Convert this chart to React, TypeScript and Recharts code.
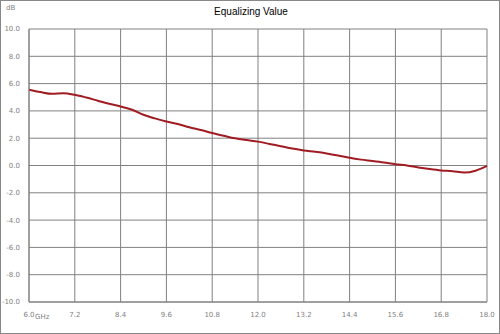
import { LineChart, Line, XAxis, YAxis, CartesianGrid } from 'recharts';

const freqs = [
  6.0, 6.3, 6.6, 6.9, 7.2, 7.5, 7.8, 8.1, 8.4, 8.7, 9.0, 9.3, 9.6, 9.9, 10.2, 10.5, 10.8, 11.1, 11.4, 11.7,
  12.0, 12.3, 12.6, 12.9, 13.2, 13.5, 13.8, 14.1, 14.4, 14.7, 15.0, 15.3, 15.6, 15.9, 16.2, 16.5, 16.8, 17.1,
  17.4, 17.7, 18.0,
];
const values = [
  5.55, 5.38, 5.25, 5.3, 5.18, 4.98, 4.75, 4.52, 4.32, 4.08, 3.72, 3.45, 3.22, 3.04, 2.8, 2.6, 2.38, 2.18,
  1.99, 1.86, 1.75, 1.58, 1.41, 1.24, 1.1, 1.0, 0.88, 0.73, 0.56, 0.43, 0.33, 0.22, 0.09, 0.0, -0.14, -0.26,
  -0.36, -0.42, -0.52, -0.38, -0.03,
];
const xTicks = [6.0, 7.2, 8.4, 9.6, 10.8, 12.0, 13.2, 14.4, 15.6, 16.8, 18.0];
const yTicks = [-10, -8, -6, -4, -2, 0, 2, 4, 6, 8, 10];

const data = freqs.map((f, i) => ({ f, v: values[i] }));

const FONT = '"DejaVu Sans", sans-serif';
const GREY = '#7f7f7f';

function XTick(props: any) {
  const { x, y, payload } = props;
  const label = payload.value.toFixed(1);
  return (
    <g>
      <text x={x} y={y} textAnchor="middle" fontSize={7} fill={GREY} fontFamily={FONT} dy={5}>
        {label}
      </text>
      {payload.value === 6 && (
        <text x={x + 6} y={y} textAnchor="start" fontSize={7} fill={GREY} fontFamily={FONT} dy={7}>
          GHz
        </text>
      )}
    </g>
  );
}

export default function App() {
  return (
    <div
      style={{
        position: 'absolute',
        left: 0,
        top: 0,
        width: 500,
        height: 334,
        background: '#fff',
        border: '1px solid #888',
        boxSizing: 'border-box',
      }}
    >
      <div
        style={{
          position: 'absolute',
          left: 0,
          width: 500,
          top: 5,
          textAlign: 'center',
          fontFamily: '"Liberation Sans", sans-serif',
          fontSize: 10,
          color: '#000',
        }}
      >
        Equalizing Value
      </div>
      <div style={{ position: 'absolute', left: 5, top: 3, fontFamily: FONT, fontSize: 7, color: GREY }}>dB</div>
      <div style={{ position: 'absolute', left: -1, top: -1 }}>
        <LineChart width={500} height={334} data={data} margin={{ top: 29, right: 13, bottom: 0, left: 1 }}>
          <CartesianGrid stroke="#808080" strokeWidth={1} horizontalValues={yTicks} verticalValues={xTicks} />
          <XAxis
            dataKey="f"
            type="number"
            domain={[6, 18]}
            ticks={xTicks}
            height={32}
            tickLine={false}
            axisLine={{ stroke: '#808080' }}
            tick={<XTick />}
            tickMargin={4}
            interval={0}
          />
          <YAxis
            type="number"
            domain={[-10, 10]}
            ticks={yTicks}
            width={28}
            tickLine={false}
            axisLine={{ stroke: '#808080' }}
            tickFormatter={(v: number) => v.toFixed(1)}
            tick={{ fontSize: 7, fill: GREY, fontFamily: FONT }}
            tickMargin={3}
            interval={0}
          />
          <Line
            type="monotone"
            dataKey="v"
            stroke="#a01c22"
            strokeWidth={2}
            dot={false}
            isAnimationActive={false}
          />
        </LineChart>
      </div>
    </div>
  );
}
